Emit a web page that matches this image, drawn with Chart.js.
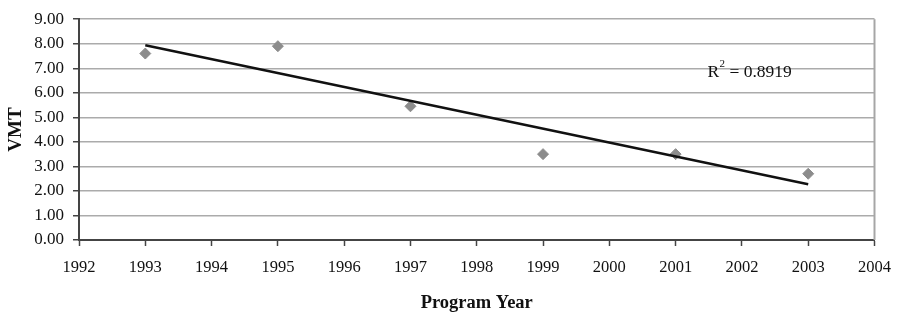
<!DOCTYPE html>
<html>
<head>
<meta charset="utf-8">
<script src="https://cdn.jsdelivr.net/npm/chart.js@4/dist/chart.umd.min.js"></script>
<style>
  html, body { margin: 0; padding: 0; background: #fff; }
  #wrap { width: 903px; height: 314px; }
</style>
</head>
<body>
<div id="wrap"><canvas id="myChart" width="903" height="314"></canvas></div>
<script>
// data
const years = [1993, 1995, 1997, 1999, 2001, 2003];
const vmt = [7.6, 7.9, 5.45, 3.5, 3.5, 2.7];
const xTicks = [1992, 1993, 1994, 1995, 1996, 1997, 1998, 1999, 2000, 2001, 2002, 2003, 2004];
const rSquared = '0.8919';

// linear trend (least squares) from the points
const n = years.length;
const mx = years.reduce((a, b) => a + b, 0) / n;
const my = vmt.reduce((a, b) => a + b, 0) / n;
let sxy = 0, sxx = 0;
years.forEach((x, i) => { sxy += (x - mx) * (vmt[i] - my); sxx += (x - mx) * (x - mx); });
const slope = sxy / sxx;
const trend = [years[0], years[n - 1]].map(x => ({ x: x, y: my + slope * (x - mx) }));

const serif = '"Liberation Serif", "Times New Roman", serif';

const extras = {
  id: 'extras',
  afterDraw(chart) {
    const { ctx, chartArea: a, scales } = chart;
    ctx.save();
    // right edge of the plot frame
    ctx.strokeStyle = '#a6a6a6';
    ctx.lineWidth = 2;
    ctx.beginPath();
    ctx.moveTo(a.right, a.top);
    ctx.lineTo(a.right, a.bottom);
    ctx.stroke();
    // R² label
    const px = scales.x.getPixelForValue(2001.48);
    const py = scales.y.getPixelForValue(6.82);
    ctx.fillStyle = '#111';
    ctx.textBaseline = 'middle';
    ctx.textAlign = 'left';
    ctx.font = '17.5px ' + serif;
    ctx.fillText('R', px, py);
    let w = ctx.measureText('R').width;
    ctx.font = '11px ' + serif;
    ctx.fillText('2', px + w + 0.5, py - 9);
    w += ctx.measureText('2').width + 0.5;
    ctx.font = '17.5px ' + serif;
    ctx.fillText(' = ' + rSquared, px + w, py);
    ctx.restore();
  }
};

new Chart(document.getElementById('myChart'), {
  type: 'scatter',
  data: {
    datasets: [
      {
        label: 'VMT',
        data: years.map((x, i) => ({ x: x, y: vmt[i] })),
        pointStyle: 'rectRot',
        radius: 5.5,
        backgroundColor: '#8c8c8c',
        borderColor: '#8c8c8c',
        borderWidth: 1,
        order: 2
      },
      {
        type: 'line',
        label: 'Linear',
        data: trend,
        borderColor: '#111',
        borderWidth: 2.5,
        pointRadius: 0,
        fill: false,
        order: 1
      }
    ]
  },
  options: {
    responsive: false,
    animation: false,
    layout: { padding: { top: 11, right: 28, left: 5, bottom: 0 } },
    plugins: {
      legend: { display: false },
      tooltip: { enabled: false }
    },
    scales: {
      x: {
        type: 'linear',
        min: 1992,
        max: 2004,
        afterBuildTicks: s => { s.ticks = xTicks.map(v => ({ value: v })); },
        afterFit: s => { s.height = 74; },
        ticks: {
          callback: v => String(v),
          color: '#111',
          font: { family: serif, size: 16.5 },
          padding: 12,
          maxRotation: 0
        },
        grid: { drawOnChartArea: false, drawTicks: true, tickLength: 6, tickColor: '#444', tickWidth: 1.5 },
        border: { display: true, color: '#444', width: 2 },
        title: {
          display: true,
          text: 'Program Year',
          color: '#111',
          font: { family: serif, size: 18.5, weight: 'bold' },
          padding: { top: 6, bottom: 0 }
        }
      },
      y: {
        min: 0,
        max: 9,
        afterFit: s => { s.width = 74; },
        ticks: {
          stepSize: 1,
          callback: v => v.toFixed(2),
          color: '#111',
          font: { family: serif, size: 17 },
          padding: 9
        },
        grid: { color: '#ababab', lineWidth: 1.5, tickLength: 6, tickColor: '#444', tickWidth: 1.5 },
        border: { display: true, color: '#444', width: 2 },
        title: {
          display: true,
          text: 'VMT',
          color: '#111',
          font: { family: serif, size: 19, weight: 'bold' },
          padding: { top: 0, bottom: 0 }
        }
      }
    }
  },
  plugins: [extras]
});
</script>
</body>
</html>
